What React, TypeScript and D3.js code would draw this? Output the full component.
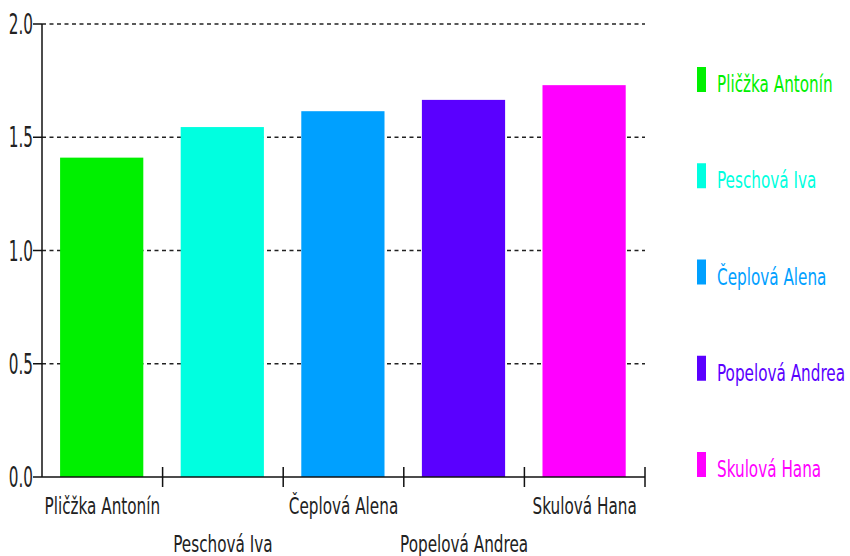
import React from "react";
import * as d3 from "d3";

const names = ["Pličžka Antonín", "Peschová Iva", "Čeplová Alena", "Popelová Andrea", "Skulová Hana"];
const values = [1.41, 1.545, 1.615, 1.665, 1.73];
const colors = ["#00f000", "#00ffe0", "#00a0ff", "#5a00ff", "#ff00ff"];
const yTicks = [0, 0.5, 1.0, 1.5, 2.0];

const W = 850;
const H = 556;
const FONT = "'DejaVu Sans Condensed', 'DejaVu Sans', Arial, sans-serif";

// narrow, slightly tall text like the original bitmap font
function NarrowText({ x, y, anchor = "start", sx = 0.77, sy = 1.03, fill = "#222", children }: {
  x: number; y: number; anchor?: string; sx?: number; sy?: number; fill?: string; children: React.ReactNode;
}) {
  return (
    <text transform={`translate(${x},${y}) scale(${sx},${sy})`} textAnchor={anchor} fontSize={22} fill={fill}>
      {children}
    </text>
  );
}

export default function App() {
  const plot = { left: 42, right: 645, top: 24, bottom: 477 };

  const x = d3.scaleBand<string>().domain(names).range([plot.left, plot.right]).padding(0);
  const y = d3.scaleLinear().domain([0, 2]).range([plot.bottom, plot.top]);
  const bw = x.bandwidth();
  const barOffset = bw * 0.15;
  const barWidth = bw * 0.69;

  // legend rows
  const legendY = d3.scaleLinear().domain([0, 4]).range([80, 465]);

  return (
    <div style={{ position: "absolute", left: 0, top: 0 }}>
      <svg width={W} height={H} style={{ display: "block", background: "#fff" }} fontFamily={FONT}>
        {/* grid lines */}
        {yTicks.filter(t => t > 0).map(t => (
          <line key={"g" + t} x1={plot.left} x2={plot.right} y1={y(t)} y2={y(t)}
            stroke="#222" strokeWidth={1.6} strokeDasharray="4,3.5" />
        ))}

        {/* bars */}
        {names.map((n, i) => (
          <rect key={n} x={(x(n) ?? 0) + barOffset} y={y(values[i])} width={barWidth}
            height={y(0) - y(values[i])} fill={colors[i]} />
        ))}

        {/* y axis */}
        <line x1={plot.left} x2={plot.left} y1={plot.top} y2={plot.bottom} stroke="#111" strokeWidth={1.5} />
        {yTicks.map(t => (
          <g key={"yt" + t}>
            <line x1={plot.left - 9} x2={plot.left} y1={y(t)} y2={y(t)} stroke="#111" strokeWidth={1.5} />
            <NarrowText x={plot.left - 9} y={y(t) + 10} anchor="end" sx={0.77} sy={1.25}>{t.toFixed(1)}</NarrowText>
          </g>
        ))}

        {/* x axis */}
        <line x1={plot.left} x2={plot.right} y1={plot.bottom} y2={plot.bottom} stroke="#111" strokeWidth={1.5} />
        {names.map(n => (
          <line key={"xt" + n} x1={(x(n) ?? 0) + bw} x2={(x(n) ?? 0) + bw} y1={plot.bottom - 10}
            y2={plot.bottom + 10} stroke="#111" strokeWidth={1.5} />
        ))}
        {names.map((n, i) => (
          <NarrowText key={"xl" + n} x={(x(n) ?? 0) + bw / 2} y={i % 2 === 0 ? 514 : 552} anchor="middle">{n}</NarrowText>
        ))}

        {/* legend */}
        {names.map((n, i) => (
          <g key={"lg" + n}>
            <rect x={697} y={legendY(i) - 13} width={9} height={25} fill={colors[i]} />
            <NarrowText x={717} y={legendY(i) + 12} fill={colors[i]}>{n}</NarrowText>
          </g>
        ))}
      </svg>
    </div>
  );
}
